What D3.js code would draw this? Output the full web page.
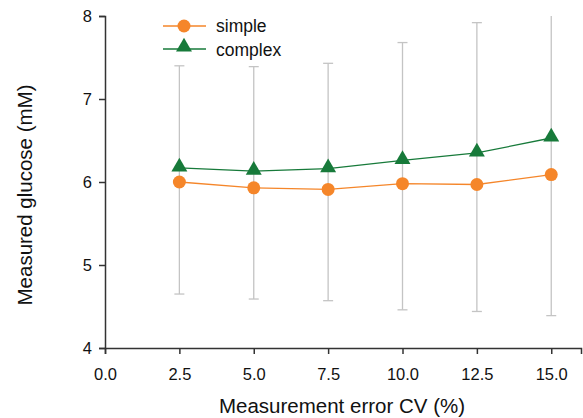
<!DOCTYPE html>
<html>
<head>
<meta charset="utf-8">
<script src="https://cdn.jsdelivr.net/npm/d3@7"></script>
<style>
  body { margin: 0; background: #fff; }
  text { font-family: "Liberation Sans", Arial, sans-serif; }
</style>
</head>
<body>
<div id="canvas"></div>
<script>
// data
const cvLevels = [2.5, 5.0, 7.5, 10.0, 12.5, 15.0];
const simpleMeans = [6.00, 5.93, 5.91, 5.98, 5.97, 6.09];
const complexMeans = [6.17, 6.13, 6.16, 6.26, 6.35, 6.53];
const errUpper = [7.40, 7.39, 7.43, 7.68, 7.92, 8.40];
const errLower = [4.65, 4.59, 4.57, 4.46, 4.44, 4.39];
const xTicks = [0, 2.5, 5, 7.5, 10, 12.5, 15];
const yTicks = [4, 5, 6, 7, 8];

const orange = "#f5862a";
const green = "#177a3a";

const width = 583, height = 418;
const margin = { top: 16, left: 105, bottom: 70, right: 2 };
const iwidth = width - margin.left - margin.right;
const iheight = height - margin.top - margin.bottom;

const svg = d3.select("#canvas").append("svg")
  .attr("width", width)
  .attr("height", height);

const g = svg.append("g")
  .attr("transform", `translate(${margin.left},${margin.top})`);

const x = d3.scaleLinear().domain([0, 16]).range([0, iwidth]);
const y = d3.scaleLinear().domain([4, 8]).range([iheight, 0]);

svg.append("clipPath").attr("id", "clip")
  .append("rect").attr("x", 0).attr("y", 0).attr("width", iwidth).attr("height", iheight);

// error bars
const errG = g.append("g").attr("clip-path", "url(#clip)");
cvLevels.forEach((c, i) => {
  errG.append("line")
    .attr("x1", x(c)).attr("x2", x(c))
    .attr("y1", y(errLower[i])).attr("y2", y(errUpper[i]))
    .attr("stroke", "#c4c4c4").attr("stroke-width", 1.3);
  [errLower[i], errUpper[i]].forEach(v => {
    errG.append("line")
      .attr("x1", x(c) - 5).attr("x2", x(c) + 5)
      .attr("y1", y(v)).attr("y2", y(v))
      .attr("stroke", "#c4c4c4").attr("stroke-width", 1.3);
  });
});

// axes
const xAxis = g.append("g")
  .attr("transform", `translate(0,${iheight})`)
  .call(d3.axisBottom(x).tickValues(xTicks).tickFormat(d3.format(".1f")).tickSizeOuter(0).tickSize(6));
const yAxis = g.append("g")
  .call(d3.axisLeft(y).tickValues(yTicks).tickFormat(d3.format("d")).tickSizeOuter(0).tickSize(6));

[xAxis, yAxis].forEach(a => {
  a.select(".domain").attr("stroke", "#333").attr("stroke-width", 1.5);
  a.selectAll(".tick line").attr("stroke", "#333").attr("stroke-width", 1.5);
  a.selectAll(".tick text").attr("fill", "#111").style("font-size", "16.5px")
    .style("font-family", "Liberation Sans, Arial, sans-serif");
});
xAxis.selectAll(".tick text").attr("dy", "1.4em");
yAxis.selectAll(".tick text").attr("x", -13);

const line = d3.line().x((d, i) => x(cvLevels[i])).y(d => y(d));

g.append("path").datum(simpleMeans)
  .attr("fill", "none").attr("stroke", orange).attr("stroke-width", 1.3)
  .attr("d", line);
g.append("path").datum(complexMeans)
  .attr("fill", "none").attr("stroke", green).attr("stroke-width", 1.3)
  .attr("d", line);

const tri = d3.symbol().type(d3.symbolTriangle).size(110);

g.selectAll(".simple").data(simpleMeans).enter().append("circle")
  .attr("cx", (d, i) => x(cvLevels[i])).attr("cy", d => y(d))
  .attr("r", 6.5).attr("fill", orange);
g.selectAll(".complex").data(complexMeans).enter().append("path")
  .attr("d", tri)
  .attr("transform", (d, i) => `translate(${x(cvLevels[i])},${y(d) - 1})`)
  .attr("fill", green);

// legend
const leg = svg.append("g");
leg.append("line").attr("x1", 163).attr("x2", 206).attr("y1", 26).attr("y2", 26)
  .attr("stroke", orange).attr("stroke-width", 1.3);
leg.append("circle").attr("cx", 184).attr("cy", 26).attr("r", 6.5).attr("fill", orange);
leg.append("text").attr("x", 216).attr("y", 32).text("simple").style("font-size", "17.5px").attr("fill", "#111");
leg.append("line").attr("x1", 163).attr("x2", 206).attr("y1", 49).attr("y2", 49)
  .attr("stroke", green).attr("stroke-width", 1.3);
leg.append("path").attr("d", tri).attr("transform", "translate(184,47)").attr("fill", green);
leg.append("text").attr("x", 216).attr("y", 56).text("complex").style("font-size", "17.5px").attr("fill", "#111");

// axis titles
svg.append("text")
  .attr("x", 342).attr("y", 413)
  .attr("text-anchor", "middle").style("font-size", "20.5px").attr("fill", "#111")
  .text("Measurement error CV (%)");
svg.append("text")
  .attr("transform", `translate(32,195) rotate(-90)`)
  .attr("text-anchor", "middle").style("font-size", "20.5px").attr("fill", "#111")
  .text("Measured glucose (mM)");
</script>
</body>
</html>
